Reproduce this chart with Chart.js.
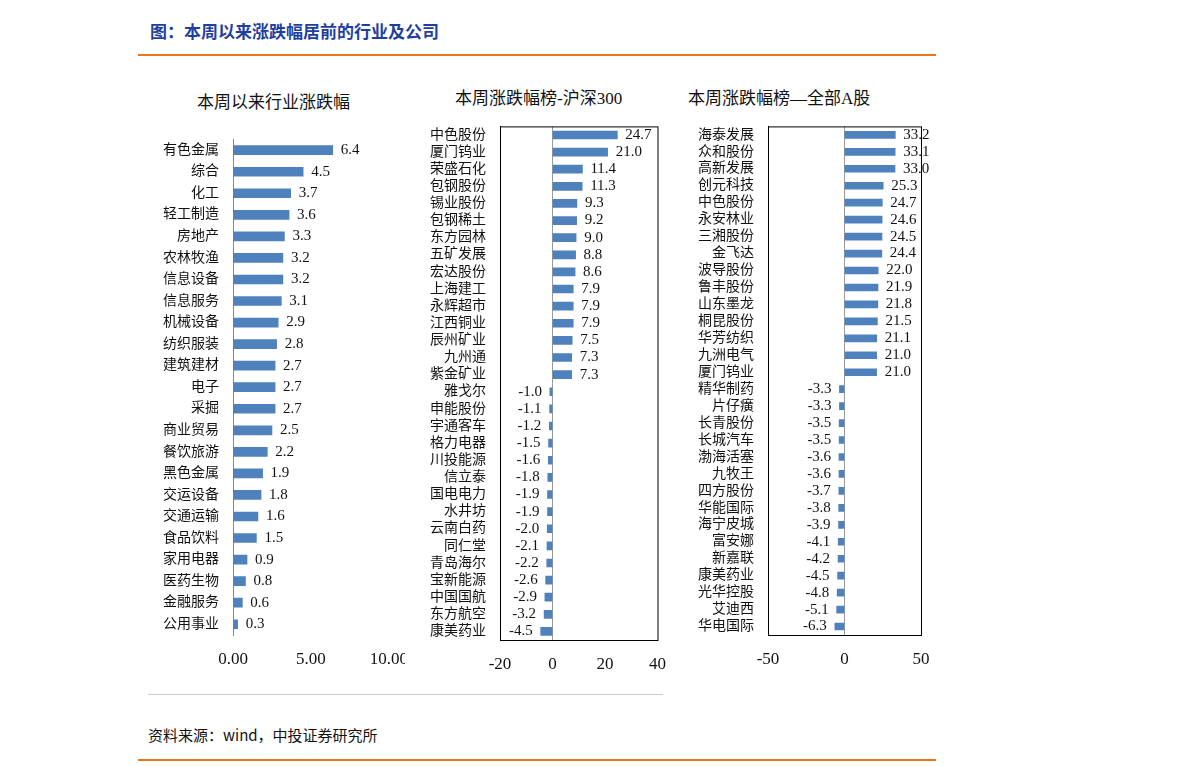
<!DOCTYPE html>
<html>
<head>
<meta charset="utf-8">
<script src="https://cdn.jsdelivr.net/npm/chart.js@4/dist/chart.umd.min.js"></script>
<style>
body { margin: 0; background: #fff; width: 1191px; height: 766px; position: relative; overflow: hidden; font-family: "Liberation Serif", "Noto Sans CJK SC", serif; }
.box { position: absolute; }
.title { position: absolute; font-size: 17px; color: #111; white-space: nowrap; }
</style>
</head>
<body>
<div class="title" style="left:150px;top:18px;color:#1f3f9f;font-weight:bold;font-family:'Noto Sans CJK SC';font-size:17px;">图：本周以来涨跌幅居前的行业及公司</div>
<div style="position:absolute;left:138px;top:54px;width:798px;height:2px;background:#e87722"></div>
<div class="title" style="left:197px;top:88px;">本周以来行业涨跌幅</div>
<div class="title" style="left:455px;top:84px;">本周涨跌幅榜-沪深300</div>
<div class="title" style="left:688px;top:84px;">本周涨跌幅榜—全部A股</div>
<div class="box" style="left:140px;top:125px;width:265px;height:550px;overflow:hidden;"><div style="position:relative;width:282px;height:550px;"><canvas id="chart-industry"></canvas></div></div>
<div class="box" style="left:410px;top:112px;width:270px;height:568px;"><canvas id="chart-hs300"></canvas></div>
<div class="box" style="left:680px;top:112px;width:270px;height:563px;"><canvas id="chart-all"></canvas></div>
<div style="position:absolute;left:148px;top:694px;width:515px;height:1px;background:#ccc"></div>
<div class="title" style="left:148px;top:724px;font-size:15px;font-family:'Noto Sans CJK SC';">资料来源：wind，中投证券研究所</div>
<div style="position:absolute;left:138px;top:759px;width:798px;height:2px;background:#e87722"></div>
<script>
/*行业涨跌幅*/
const industryLabels = ["有色金属", "综合", "化工", "轻工制造", "房地产", "农林牧渔", "信息设备", "信息服务", "机械设备", "纺织服装", "建筑建材", "电子", "采掘", "商业贸易", "餐饮旅游", "黑色金属", "交运设备", "交通运输", "食品饮料", "家用电器", "医药生物", "金融服务", "公用事业"];
const industryValues = [6.4, 4.5, 3.7, 3.6, 3.3, 3.2, 3.2, 3.1, 2.9, 2.8, 2.7, 2.7, 2.7, 2.5, 2.2, 1.9, 1.8, 1.6, 1.5, 0.9, 0.8, 0.6, 0.3];

/*沪深300涨跌幅榜*/
const hs300Labels = ["中色股份", "厦门钨业", "荣盛石化", "包钢股份", "锡业股份", "包钢稀土", "东方园林", "五矿发展", "宏达股份", "上海建工", "永辉超市", "江西铜业", "辰州矿业", "九州通", "紫金矿业", "雅戈尔", "申能股份", "宇通客车", "格力电器", "川投能源", "信立泰", "国电电力", "水井坊", "云南白药", "同仁堂", "青岛海尔", "宝新能源", "中国国航", "东方航空", "康美药业"];
const hs300Values = [24.7, 21.0, 11.4, 11.3, 9.3, 9.2, 9.0, 8.8, 8.6, 7.9, 7.9, 7.9, 7.5, 7.3, 7.3, -1.0, -1.1, -1.2, -1.5, -1.6, -1.8, -1.9, -1.9, -2.0, -2.1, -2.2, -2.6, -2.9, -3.2, -4.5];

/*全部A股涨跌幅榜*/
const allLabels = ["海泰发展", "众和股份", "高新发展", "创元科技", "中色股份", "永安林业", "三湘股份", "金飞达", "波导股份", "鲁丰股份", "山东墨龙", "桐昆股份", "华芳纺织", "九洲电气", "厦门钨业", "精华制药", "片仔癀", "长青股份", "长城汽车", "渤海活塞", "九牧王", "四方股份", "华能国际", "海宁皮城", "富安娜", "新嘉联", "康美药业", "光华控股", "艾迪西", "华电国际"];
const allValues = [33.2, 33.1, 33.0, 25.3, 24.7, 24.6, 24.5, 24.4, 22.0, 21.9, 21.8, 21.5, 21.1, 21.0, 21.0, -3.3, -3.3, -3.5, -3.5, -3.6, -3.6, -3.7, -3.8, -3.9, -4.1, -4.2, -4.5, -4.8, -5.1, -6.3];

const FONT = "'Liberation Serif', 'Noto Sans CJK SC', serif";

/*数值标签 + 边框*/
const valueLabels = {
    id: "valueLabels",
    afterDatasetsDraw(chart, args, opts) {
        const ctx = chart.ctx;
        const meta = chart.getDatasetMeta(0);
        const data = chart.data.datasets[0].data;
        ctx.save();
        ctx.font = opts.size + "px " + FONT;
        ctx.fillStyle = "#111";
        ctx.textBaseline = "middle";
        meta.data.forEach((bar, i) => {
            const v = data[i];
            const txt = v.toFixed(1);
            if (v >= 0) {
                ctx.textAlign = "left";
                ctx.fillText(txt, bar.x + 8, bar.y);
            } else {
                ctx.textAlign = "right";
                ctx.fillText(txt, bar.x - 8, bar.y);
            }
        });
        if (opts.frame) {
            const a = chart.chartArea;
            ctx.strokeStyle = "#000";
            ctx.lineWidth = 1;
            ctx.strokeRect(a.left + 0.5, a.top + 0.5, a.right - a.left, a.bottom - a.top);
        }
        ctx.restore();
    }
};

function makeChart(id, labels, values, o) {
    return new Chart(document.getElementById(id).getContext("2d"), {
        type: "bar",
        data: { labels: labels, datasets: [{ data: values, backgroundColor: "#4f81bd", barThickness: o.thick }] },
        options: {
            indexAxis: "y",
            responsive: true,
            maintainAspectRatio: false,
            animation: false,
            layout: { padding: { top: o.top, right: o.right, bottom: 0, left: 0 } },
            plugins: { legend: { display: false }, tooltip: { enabled: false }, valueLabels: { size: o.labelSize, frame: o.frame } },
            scales: {
                x: {
                    min: o.min, max: o.max,
                    ticks: { stepSize: o.step, color: "#111", font: { family: FONT, size: 17 }, padding: o.tickPad,
                        callback: o.tickFmt },
                    grid: { display: o.frame, drawTicks: false,
                        color: (c) => (c.tick && c.tick.value === 0 ? "#999" : "rgba(0,0,0,0)") },
                    border: { display: !o.frame ? false : true, color: "#000" },
                    afterFit: (s) => { s.height = o.xh; }
                },
                y: {
                    ticks: { color: "#111", font: { family: FONT, size: 14 }, padding: 6, autoSkip: false },
                    grid: { display: false },
                    border: { display: true, color: o.frame ? "#000" : "#888" },
                    afterFit: (s) => { s.width = o.yw; }
                }
            }
        },
        plugins: [valueLabels]
    });
}

makeChart("chart-industry", industryLabels, industryValues, {
    thick: 9, top: 0, right: 0, min: 0, max: 10, step: 5, tickPad: 14, xh: 40, yw: 93, labelSize: 15, frame: false,
    tickFmt: (v) => v.toFixed(2)
});
makeChart("chart-hs300", hs300Labels, hs300Values, {
    thick: 8, top: 8, right: 8, min: -20, max: 40, step: 20, tickPad: 14, xh: 40, yw: 90, labelSize: 15, frame: true,
    tickFmt: (v) => v
});
makeChart("chart-all", allLabels, allValues, {
    thick: 7, top: 8, right: 29, min: -50, max: 50, step: 50, tickPad: 14, xh: 40, yw: 88, labelSize: 15, frame: true,
    tickFmt: (v) => v
});
</script>
</body>
</html>
